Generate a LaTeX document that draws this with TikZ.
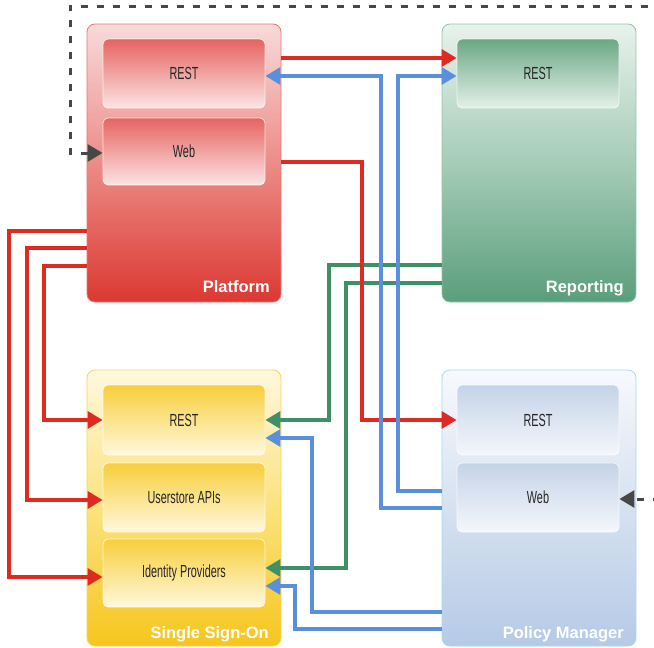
\documentclass[tikz,border=0pt]{standalone}
\usepackage{fontspec}
\usetikzlibrary{arrows.meta}
\newfontfamily\condf[FakeStretch=0.62]{Liberation Sans}
\newfontfamily\labf{Liberation Sans}
\definecolor{cred}{HTML}{DF2A22}
\definecolor{cblue}{HTML}{5A8FDB}
\definecolor{cgreen}{HTML}{3F9068}
\definecolor{cdash}{HTML}{474747}
\definecolor{ctext}{HTML}{262626}
\tikzset{
  outerbox/.style={rectangle, rounded corners=8pt, minimum width=194pt, line width=0.8pt, inner sep=0pt},
  innerbox/.style={rectangle, rounded corners=5pt, minimum width=162pt, draw=white, draw opacity=0.75, line width=0.8pt,
    font=\condf\fontsize{17.5}{19}\selectfont, text=ctext, inner sep=0pt},
  boxlabel/.style={anchor=base east, font=\labf\bfseries\fontsize{16.5}{18}\selectfont, text=white, inner sep=0pt},
  conn/.style={line width=3.2pt, line join=miter, -{Triangle[length=15pt,width=17pt]}},
  dashconn/.style={line width=3pt, cdash, dash pattern=on 7pt off 9pt,
    {Triangle[length=15pt,width=17pt]}-{Triangle[length=15pt,width=17pt]}},
}
\begin{document}
\begin{tikzpicture}[x=1pt,y=-1pt]
\useasboundingbox (0,0) rectangle (654,648);
% outer boxes
\node[outerbox, minimum height=278pt, draw=cred!65, top color={rgb,255:red,248;green,218;blue,218}, bottom color={rgb,255:red,220;green,56;blue,50}, middle color={rgb,255:red,236;green,140;blue,135}] (plat) at (184,163) {};
\node[outerbox, minimum height=278pt, draw=cgreen!55, top color={rgb,255:red,232;green,242;blue,236}, bottom color={rgb,255:red,90;green,158;blue,124}, middle color={rgb,255:red,165;green,204;blue,183}] (rep) at (539,163) {};
\node[outerbox, minimum height=276pt, draw={rgb,255:red,246;green,212;blue,90}, top color={rgb,255:red,255;green,248;blue,222}, bottom color={rgb,255:red,246;green,198;blue,30}, middle color={rgb,255:red,251;green,226;blue,125}] (sso) at (184,508) {};
\node[outerbox, minimum height=276pt, draw={rgb,255:red,168;green,214;blue,245}, top color={rgb,255:red,247;green,249;blue,253}, bottom color={rgb,255:red,182;green,202;blue,230}, middle color={rgb,255:red,214;green,225;blue,240}] (pol) at (539,508) {};
% inner boxes
\node[innerbox, minimum height=69pt, top color={rgb,255:red,229;green,100;blue,96}, bottom color={rgb,255:red,251;green,228;blue,228}] (prest) at (184,73.5) {REST};
\node[innerbox, minimum height=67pt, top color={rgb,255:red,229;green,100;blue,96}, bottom color={rgb,255:red,251;green,228;blue,228}] (pweb) at (184,151.5) {Web};
\node[innerbox, minimum height=69pt, top color={rgb,255:red,106;green,168;blue,132}, bottom color={rgb,255:red,228;green,240;blue,233}] (rrest) at (538,73.5) {REST};
\node[innerbox, minimum height=70pt, top color={rgb,255:red,248;green,206;blue,58}, bottom color={rgb,255:red,255;green,248;blue,221}] (srest) at (184,420) {REST};
\node[innerbox, minimum height=69pt, top color={rgb,255:red,248;green,206;blue,58}, bottom color={rgb,255:red,255;green,248;blue,221}] (suser) at (184,497.5) {Userstore APIs};
\node[innerbox, minimum height=68pt, top color={rgb,255:red,248;green,206;blue,58}, bottom color={rgb,255:red,255;green,248;blue,221}] (sidp) at (184,573) {Identity Providers};
\node[innerbox, minimum height=70pt, top color={rgb,255:red,197;green,211;blue,232}, bottom color={rgb,255:red,244;green,247;blue,251}] (mrest) at (538,420) {REST};
\node[innerbox, minimum height=69pt, top color={rgb,255:red,197;green,211;blue,232}, bottom color={rgb,255:red,244;green,247;blue,251}] (mweb) at (538,497.5) {Web};
% box labels
\node[boxlabel] (platlab) at (270,292) {Platform};
\node[boxlabel] (replab) at (624,292) {Reporting};
\node[boxlabel] (ssolab) at (269,638) {Single Sign-On};
\node[boxlabel] (pollab) at (624,638) {Policy Manager};
% green connectors
\draw[conn, cgreen] (rep.west |- 0,265) -| (329,420) -- (srest.east |- 0,420);
\draw[conn, cgreen] (rep.west |- 0,283) -| (346,568) -- (sidp.east |- 0,568);
% red connectors
\draw[conn, cred] (plat.east |- 0,58) -- (rrest.west |- 0,58);
\draw[conn, cred] (plat.east |- 0,162) -| (362,420) -- (mrest.west |- 0,420);
\draw[conn, cred] (plat.west |- 0,231) -| (9,577) -- (sidp.west |- 0,577);
\draw[conn, cred] (plat.west |- 0,248) -| (27,500) -- (suser.west |- 0,500);
\draw[conn, cred] (plat.west |- 0,266) -| (44,420) -- (srest.west |- 0,420);
% blue connectors
\draw[conn, cblue] (pol.west |- 0,491) -| (398,76) -- (rrest.west |- 0,76);
\draw[conn, cblue] (pol.west |- 0,508) -| (381,76) -- (prest.east |- 0,76);
\draw[conn, cblue] (pol.west |- 0,612) -| (312,438) -- (srest.east |- 0,438);
\draw[conn, cblue] (pol.west |- 0,629) -| (295,586) -- (sidp.east |- 0,586);
% dashed connector
\draw[dashconn] (pweb.west |- 0,153) -- (70,153) -- (70,6) -- (700,6) -- (700,499) -- (mweb.east |- 0,499);
\end{tikzpicture}
\end{document}
